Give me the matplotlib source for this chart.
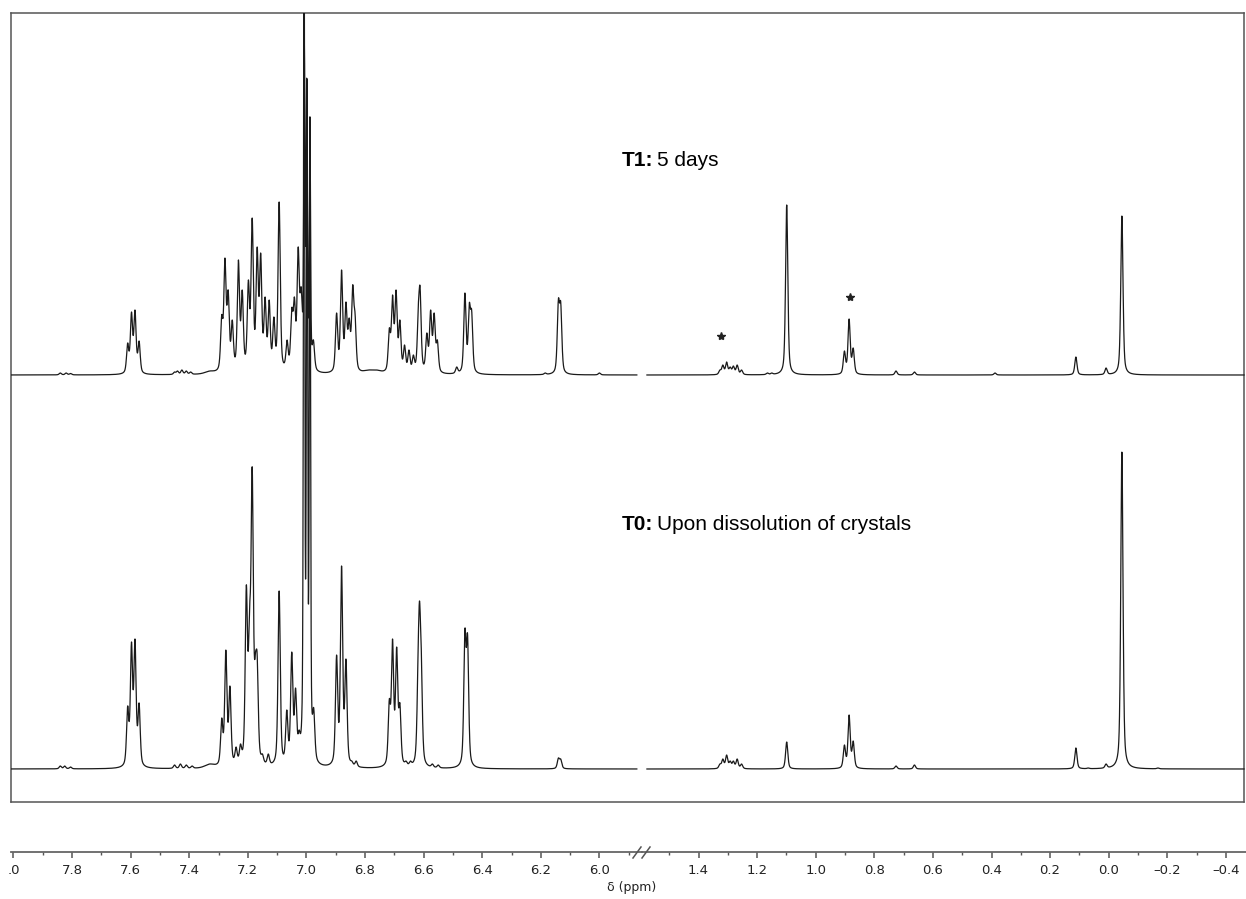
import numpy as np
import matplotlib.pyplot as plt
from matplotlib.lines import Line2D

W, H = 1246, 899

# peak lists: ppm and height above own baseline (pixel units)
t1_left_ppm = [7.840, 7.820, 7.805,
               7.610, 7.597, 7.585, 7.571,
               7.450, 7.440, 7.425, 7.410, 7.395, 7.330,
               7.289, 7.278, 7.267, 7.253, 7.232, 7.219, 7.198, 7.185, 7.168, 7.156,
               7.141, 7.127, 7.111, 7.093, 7.066, 7.050, 7.041, 7.028, 7.018,
               7.007, 6.999, 6.988, 6.976,
               6.897, 6.880, 6.865, 6.854, 6.842, 6.834, 6.790, 6.760,
               6.717, 6.706, 6.694, 6.681, 6.665, 6.650, 6.635,
               6.618, 6.612, 6.589, 6.576, 6.564, 6.553,
               6.487, 6.459, 6.444, 6.436,
               6.185, 6.140, 6.132, 6.000]
t1_left_h = [2, 2, 1.5,
             32, 63, 65, 34,
             3, 4, 5, 4, 3, 4,
             60, 117, 85, 55, 115, 85, 95, 157, 128, 122,
             78, 75, 58, 173, 35, 67, 78, 128, 88,
             330, 297, 258, 35,
             62, 105, 73, 57, 90, 62, 5, 5,
             47, 80, 85, 55, 30, 25, 20,
             70, 88, 42, 65, 62, 35,
             8, 82, 72, 65,
             2, 76, 73, 2]

t1_right_ppm = [1.327, 1.317, 1.304, 1.292, 1.281, 1.268, 1.253,
                1.165, 1.150, 1.099,
                0.902, 0.886, 0.872,
                0.726, 0.663, 0.388,
                0.112, 0.009, -0.045]
t1_right_h = [5, 10, 13, 8, 9, 10, 5,
              2, 2, 170,
              24, 56, 27,
              4, 3, 2,
              18, 7, 159]

t0_left_ppm = [7.840, 7.825, 7.805,
               7.610, 7.597, 7.585, 7.571,
               7.450, 7.430, 7.410, 7.390, 7.330,
               7.289, 7.275, 7.261, 7.240, 7.225, 7.205, 7.194, 7.185, 7.174, 7.168,
               7.150, 7.130, 7.093, 7.067, 7.050, 7.037, 7.025,
               7.008, 6.998, 6.988, 6.975,
               6.897, 6.880, 6.865, 6.845, 6.830,
               6.717, 6.706, 6.692, 6.681, 6.660, 6.645,
               6.619, 6.614, 6.608, 6.590, 6.570, 6.550,
               6.459, 6.450,
               6.140, 6.132]
t0_left_h = [3, 3, 2,
             63, 127, 130, 66,
             4, 5, 4, 3, 5,
             51, 119, 83, 22, 25, 184, 162, 302, 116, 114,
             15, 15, 178, 59, 117, 81, 39,
             900, 691, 652, 61,
             114, 203, 110, 8, 8,
             70, 130, 122, 66, 8, 8,
             116, 168, 121, 5, 5, 4,
             140, 135,
             11, 10]

t0_right_ppm = [1.327, 1.317, 1.304, 1.292, 1.281, 1.268, 1.253,
                1.099,
                0.902, 0.886, 0.872,
                0.726, 0.663,
                0.112, 0.070, 0.009, -0.045, -0.168]
t0_right_h = [5, 10, 14, 8, 8, 10, 5,
              27,
              24, 54, 28,
              3, 4,
              21, 1, 5, 317, 1]

t1_offset = 394

left_ticks = [8.0, 7.8, 7.6, 7.4, 7.2, 7.0, 6.8, 6.6, 6.4, 6.2, 6.0]
left_labels = [".0", "7.8", "7.6", "7.4", "7.2", "7.0", "6.8", "6.6", "6.4", "6.2", "6.0"]
right_ticks = [1.4, 1.2, 1.0, 0.8, 0.6, 0.4, 0.2, 0.0, -0.2, -0.4]
right_labels = ["1.4", "1.2", "1.0", "0.8", "0.6", "0.4", "0.2", "0.0", "\u20130.2", "\u20130.4"]

# impurity stars on T1 (ppm, height)
star_ppm = [1.322, 0.884]
star_y = [433, 472]


def line_widths(centers, width):
    # the very sharp lines of the big 7.0 ppm signal are narrower,
    # the weak humps on the baseline are broad
    c = np.asarray(centers)
    w = np.where((c > 6.984) & (c < 7.012), 0.0048, width)
    w = np.where(np.isin(c, [7.330, 6.790, 6.760]), 0.04, w)
    return w


def line_sum(x, centers, heights, widths, eta=0.5):
    # pseudo-voigt lines
    x = np.asarray(x)[:, None]
    c = np.asarray(centers)[None, :]
    w = np.asarray(widths)[None, :]
    u = (x - c) / (w / 2)
    g = eta / (1.0 + u ** 2) + (1 - eta) * np.exp(-np.log(2) * u ** 2)
    return g @ np.asarray(heights, float)


def fit_heights(centers, targets, widths):
    # scale line heights so that the summed curve hits the read-off peak tops
    t = np.array(targets, float)
    h = t.copy()
    for _ in range(80):
        cur = line_sum(centers, centers, h, widths)
        h = h * t / cur
    return h


def spectrum(x, centers, targets, width):
    widths = line_widths(centers, width)
    h = fit_heights(centers, targets, widths)
    return line_sum(x, centers, h, widths)


def px_rect(x0, y0, x1, y1):
    return [x0 / W, 1 - y1 / H, (x1 - x0) / W, (y1 - y0) / H]


fig = plt.figure(figsize=(W / 100, H / 100), dpi=100)

frame = fig.add_axes(px_rect(11, 13, 1244, 802))
frame.set_xticks([])
frame.set_yticks([])
for s in frame.spines.values():
    s.set_color("#555555")
    s.set_linewidth(1.1)

ax_l = fig.add_axes(px_rect(11, 13, 641.5, 802))
ax_r = fig.add_axes(px_rect(641.5, 13, 1246, 802))

x_l = np.arange(8.008, 5.872, -0.0003)
x_r = np.arange(1.576, -0.462, -0.0003)

line_kw = dict(color="#1a1a1a", lw=0.9)
ax_l.plot(x_l, spectrum(x_l, t0_left_ppm, t0_left_h, 0.009), **line_kw)
ax_l.plot(x_l, spectrum(x_l, t1_left_ppm, t1_left_h, 0.009) + t1_offset, **line_kw)
ax_r.plot(x_r, spectrum(x_r, t0_right_ppm, t0_right_h, 0.009), **line_kw)
ax_r.plot(x_r, spectrum(x_r, t1_right_ppm, t1_right_h, 0.009) + t1_offset, **line_kw)
ax_r.plot(star_ppm, star_y, ls="none", marker="*", ms=6, color="#222222")

ax_l.set_xlim(8.0 + 2.4 / 293, 8.0 - 628.1 / 293)
ax_r.set_xlim(467.2 / 293, -137.3 / 293)

for ax in (ax_l, ax_r):
    ax.set_ylim(-33, 756)
    ax.patch.set_visible(False)
    for side in ("top", "left", "right"):
        ax.spines[side].set_visible(False)
    ax.spines["bottom"].set_position(("outward", 36))
    ax.spines["bottom"].set_color("#666666")
    ax.spines["bottom"].set_linewidth(1.3)
    ax.set_yticks([])
    ax.tick_params(axis="x", which="major", direction="out", length=4, width=1.1,
                   color="#555555", pad=5, labelsize=9.5, labelcolor="#222222")
    ax.tick_params(axis="x", which="minor", direction="out", length=2.5, width=1.0,
                   color="#555555")

ax_l.set_xticks(left_ticks)
ax_l.set_xticklabels(left_labels)
ax_l.set_xticks([7.9, 7.7, 7.5, 7.3, 7.1, 6.9, 6.7, 6.5, 6.3, 6.1, 5.9], minor=True)
ax_r.set_xticks(right_ticks)
ax_r.set_xticklabels(right_labels)
ax_r.set_xticks([1.5, 1.3, 1.1, 0.9, 0.7, 0.5, 0.3, 0.1, -0.1, -0.3], minor=True)

# axis break marks
for x0 in (633, 642):
    fig.add_artist(Line2D([x0 / W, (x0 + 8) / W], [1 - 858 / H, 1 - 847 / H],
                          color="#555555", lw=1.1))

fig.text(632 / W, 1 - 888 / H, "\u03b4 (ppm)", ha="center", va="center",
         fontsize=9, color="#222222")

# spectrum labels
txt_kw = dict(va="center", fontsize=15, family="Liberation Sans", color="black")
fig.text(622 / W, 1 - 160 / H, "T1:", fontweight="bold", **txt_kw)
fig.text(657 / W, 1 - 160 / H, "5 days", **txt_kw)
fig.text(622 / W, 1 - 525 / H, "T0:", fontweight="bold", **txt_kw)
fig.text(657 / W, 1 - 525 / H, "Upon dissolution of crystals", **txt_kw)

fig.savefig("out.png", dpi=100)
